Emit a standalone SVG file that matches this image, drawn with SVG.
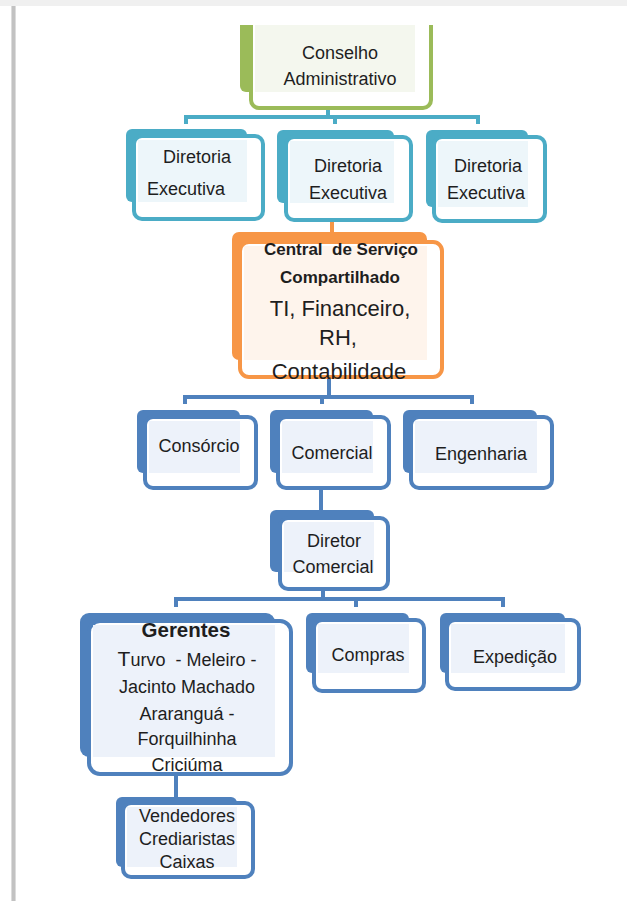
<svg xmlns="http://www.w3.org/2000/svg" width="627" height="901" viewBox="0 0 627 901">
<style>
text{font-family:"Liberation Sans",Arial,sans-serif;fill:#1e1e1e;text-anchor:middle;font-size:18px;white-space:pre}
.b{font-weight:bold;font-size:17px}
.big{font-size:22px}
.gb{font-weight:bold;font-size:20.5px}
.conn{fill:none;stroke-width:4}
.front{fill:#fff;stroke-width:4}
.g .back{fill:#9BBB59}.g .front{stroke:#9BBB59}.g .tint{fill:#f4f7ee}
.t .back{fill:#4BACC6}.t .front{stroke:#4BACC6}.t .tint{fill:#edf6fa}
.o .back{fill:#F79646}.o .front{stroke:#F79646}.o .tint{fill:#fef4ec}
.u .back{fill:#4F81BD}.u .front{stroke:#4F81BD}.u .tint{fill:#edf2fa}
</style>
<defs>
<clipPath id="clipTop"><rect x="0" y="25" width="627" height="876"/></clipPath>
</defs>
<g id="page">
<rect x="0" y="0" width="627" height="901" fill="#fff"/>
<rect x="0" y="0" width="627" height="6" fill="#f0f0f0"/>
<rect x="11" y="6" width="5" height="895" fill="#dcdcdc"/>
<rect x="12" y="6" width="3" height="895" fill="#c2c2c2"/>
</g>
<g id="connectors">
<path class="conn" stroke="#4BACC6" d="M328,100V117M186,124V117H478V124M335,117V124"/>
<path class="conn" stroke="#F79646" d="M332,208V234"/>
<path class="conn" stroke="#4F81BD" d="M329,377V397M185,404V397H472V404M322,397V404"/>
<path class="conn" stroke="#4F81BD" d="M321,489V512"/>
<path class="conn" stroke="#4F81BD" d="M323,589V599M176,607V599H503V607M356,599V607"/>
<path class="conn" stroke="#4F81BD" d="M176,775V798"/>
</g>
<g id="conselho" class="g" clip-path="url(#clipTop)">
<rect class="back" x="240" y="10" width="178" height="82" rx="6"/>
<rect class="front" x="251" y="10" width="180" height="98" rx="8"/>
<rect class="tint" x="255" y="10" width="160" height="82"/>
<text x="340" y="59">Conselho</text>
<text x="340" y="85">Administrativo</text>
</g>
<g id="diretoria1" class="t">
<rect class="back" x="126" y="129" width="121" height="73" rx="6"/>
<rect class="front" x="134" y="136" width="129" height="83" rx="8"/>
<rect class="tint" x="138" y="140" width="109" height="62"/>
<text x="197" y="163">Diretoria</text>
<text x="186" y="195">Executiva</text>
</g>
<g id="diretoria2" class="t">
<rect class="back" x="277" y="130" width="117" height="73" rx="6"/>
<rect class="front" x="286" y="137" width="125" height="83" rx="8"/>
<rect class="tint" x="290" y="141" width="104" height="62"/>
<text x="348" y="172">Diretoria</text>
<text x="348" y="199">Executiva</text>
</g>
<g id="diretoria3" class="t">
<rect class="back" x="426" y="130" width="102" height="77" rx="6"/>
<rect class="front" x="434" y="137" width="111" height="84" rx="8"/>
<rect class="tint" x="438" y="141" width="90" height="66"/>
<text x="488" y="172">Diretoria</text>
<text x="486" y="199">Executiva</text>
</g>
<g id="central" class="o">
<rect class="back" x="232" y="232" width="195" height="128" rx="7"/>
<rect class="front" x="240" y="242" width="202" height="135" rx="9"/>
<rect class="tint" x="244" y="246" width="183" height="114"/>
<text class="b" x="341" y="255">Central  de Serviço</text>
<text class="b" x="340" y="283">Compartilhado</text>
<text class="big" x="340" y="316">TI, Financeiro,</text>
<text class="big" x="338" y="345">RH,</text>
<text class="big" x="339" y="379">Contabilidade</text>
</g>
<g id="consorcio" class="u">
<rect class="back" x="137" y="410" width="103" height="63" rx="6"/>
<rect class="front" x="145" y="417" width="111" height="71" rx="8"/>
<rect class="tint" x="149" y="421" width="91" height="52"/>
<text x="199" y="452">Consórcio</text>
</g>
<g id="comercial" class="u">
<rect class="back" x="270" y="410" width="103" height="63" rx="6"/>
<rect class="front" x="278" y="417" width="111" height="71" rx="8"/>
<rect class="tint" x="282" y="421" width="91" height="52"/>
<text x="332" y="459">Comercial</text>
</g>
<g id="engenharia" class="u">
<rect class="back" x="403" y="410" width="134" height="63" rx="6"/>
<rect class="front" x="411" y="417" width="141" height="71" rx="8"/>
<rect class="tint" x="415" y="421" width="122" height="52"/>
<text x="481" y="460">Engenharia</text>
</g>
<g id="diretor-comercial" class="u">
<rect class="back" x="270" y="510" width="104" height="62" rx="6"/>
<rect class="front" x="280" y="518" width="108" height="71" rx="8"/>
<rect class="tint" x="284" y="522" width="90" height="50"/>
<text x="334" y="547">Diretor</text>
<text x="333" y="573">Comercial</text>
</g>
<g id="gerentes" class="u">
<rect class="back" x="80" y="613" width="195" height="144" rx="9"/>
<rect class="front" x="89" y="621" width="202" height="153" rx="11"/>
<rect class="tint" x="93" y="625" width="182" height="132"/>
<text class="gb" x="186" y="637">Gerentes</text>
<text x="187" y="666"><tspan style="font-size:21px">T</tspan>urvo  - Meleiro -</text>
<text x="187" y="693">Jacinto Machado</text>
<text x="187" y="720">Araranguá -</text>
<text x="187" y="745">Forquilhinha</text>
<text x="187" y="771">Criciúma</text>
</g>
<g id="compras" class="u">
<rect class="back" x="306" y="613" width="103" height="60" rx="6"/>
<rect class="front" x="314" y="620" width="110" height="71" rx="8"/>
<rect class="tint" x="318" y="624" width="91" height="49"/>
<text x="368" y="661">Compras</text>
</g>
<g id="expedicao" class="u">
<rect class="back" x="440" y="613" width="125" height="60" rx="6"/>
<rect class="front" x="447" y="620" width="132" height="69" rx="8"/>
<rect class="tint" x="451" y="624" width="114" height="49"/>
<text x="515" y="663">Expedição</text>
</g>
<g id="vendedores" class="u">
<rect class="back" x="116" y="797" width="121" height="70" rx="6"/>
<rect class="front" x="123" y="803" width="130" height="74" rx="8"/>
<rect class="tint" x="127" y="807" width="110" height="60"/>
<text x="187" y="822">Vendedores</text>
<text x="187" y="845">Crediaristas</text>
<text x="187" y="868">Caixas</text>
</g>
</svg>
